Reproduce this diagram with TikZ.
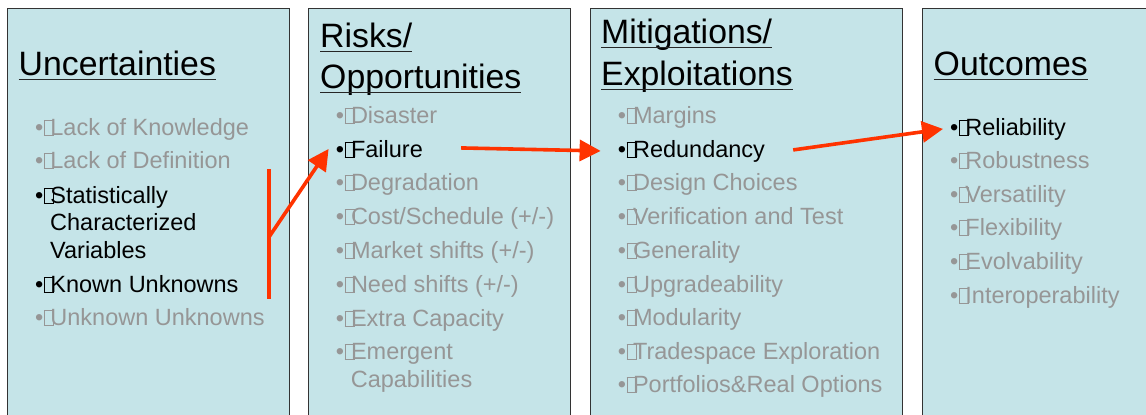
\documentclass[tikz,border=0pt]{standalone}
\usepackage{fontspec}
\setmainfont{Liberation Sans}
\usetikzlibrary{arrows.meta,calc}
\definecolor{panelfill}{HTML}{C5E4E8}
\definecolor{itemgray}{HTML}{969696}
\definecolor{arrowred}{HTML}{FF3300}
\newcommand\gbul{•\kern0.5pt\rlap{\fboxsep=0pt\fboxrule=0.9pt\fbox{\rule{0pt}{14pt}\hspace{8.6pt}}}\kern6.5pt}
\tikzset{
  panel/.style={draw=black!80, line width=1.2pt, fill=panelfill, anchor=north west, inner sep=0, minimum height=440pt},
  ttl/.style={anchor=base west, inner sep=0, font=\fontsize{33.8}{40}\selectfont, text=black},
  uline/.style={line width=1.3pt, black!85},
  itm/.style={anchor=base west, inner sep=0, font=\fontsize{23.5}{28}\selectfont, text=itemgray},
  hot/.style={text=black},
  redline/.style={arrowred, line width=3.6pt},
  redarrow/.style={arrowred, line width=3.6pt, -{Triangle[length=21pt,width=21pt]}}
}
\begin{document}
\begin{tikzpicture}[x=1pt,y=-1pt]
\useasboundingbox (0,0) rectangle (1146,415);
\clip (0,0) rectangle (1146,415);
% panels
\node[panel, minimum width=282pt] (p1) at (7,7.5) {};
\node[panel, minimum width=262pt] (p2) at (308,7.5) {};
\node[panel, minimum width=312pt] (p3) at (590,7.5) {};
\node[panel, minimum width=260pt] (p4) at (922,7.5) {};
% titles
\node[ttl] (t1) at (18.5,75) {Uncertainties};
\node[ttl] (t2a) at (320,47) {Risks/};
\node[ttl] (t2b) at (320,88) {Opportunities};
\node[ttl] (t3a) at (601,43) {Mitigations/};
\node[ttl] (t3b) at (601,85) {Exploitations};
\node[ttl] (t4) at (933.5,75) {Outcomes};
\foreach \t in {t1,t2a,t2b,t3a,t3b,t4}
  \draw[uline] ($(\t.base west)+(0,4.2)$) -- ($(\t.base east)+(0,4.2)$);
% panel 1 items
\node[itm] (u1) at (35,135) {\gbul Lack of Knowledge};
\node[itm] (u2) at (35,168) {\gbul Lack of Definition};
\node[itm,hot] (u3) at (35,203) {\gbul Statistically};
\node[itm,hot] (u3b) at (50,230) {Characterized};
\node[itm,hot] (u3c) at (50,258) {Variables};
\node[itm,hot] (u4) at (35,292) {\gbul Known Unknowns};
\node[itm] (u5) at (35,325) {\gbul Unknown Unknowns};
% panel 2 items
\node[itm] (r1) at (335.6,123) {\gbul Disaster};
\node[itm,hot] (r2) at (335.6,157) {\gbul Failure};
\node[itm] (r3) at (335.6,190) {\gbul Degradation};
\node[itm] (r4) at (335.6,224) {\gbul Cost/Schedule (+/-)};
\node[itm] (r5) at (335.6,258) {\gbul Market shifts (+/-)};
\node[itm] (r6) at (335.6,292) {\gbul Need shifts (+/-)};
\node[itm] (r7) at (335.6,326) {\gbul Extra Capacity};
\node[itm] (r8) at (335.6,359) {\gbul Emergent};
\node[itm] (r8b) at (350.6,387) {Capabilities};
% panel 3 items
\node[itm] (m1) at (617.6,123) {\gbul Margins};
\node[itm,hot] (m2) at (617.6,157) {\gbul Redundancy};
\node[itm] (m3) at (617.6,190) {\gbul Design Choices};
\node[itm] (m4) at (617.6,224) {\gbul Verification and Test};
\node[itm] (m5) at (617.6,258) {\gbul Generality};
\node[itm] (m6) at (617.6,292) {\gbul Upgradeability};
\node[itm] (m7) at (617.6,325) {\gbul Modularity};
\node[itm] (m8) at (617.6,359) {\gbul Tradespace Exploration};
\node[itm] (m9) at (617.6,392) {\gbul Portfolios\&Real Options};
% panel 4 items
\node[itm,hot] (o1) at (950,135) {\gbul Reliability};
\node[itm] (o2) at (950,168) {\gbul Robustness};
\node[itm] (o3) at (950,202) {\gbul Versatility};
\node[itm] (o4) at (950,235) {\gbul Flexibility};
\node[itm] (o5) at (950,269) {\gbul Evolvability};
\node[itm] (o6) at (950,303) {\gbul Interoperability};
% red annotations
\coordinate (vtop) at (269,169);
\coordinate (vbot) at (269,299);
\coordinate (vmid) at (269,237);
\draw[redline] (vtop) -- (vbot);
\draw[redarrow] (vmid) -- ($(r2.west)+(-7,0)$);
\draw[redarrow] ($(r2.east)+(38,-1)$) -- ($(m2.west)+(-17,0)$);
\draw[redarrow] ($(m2.east)+(28,-1)$) -- ($(o1.west)+(-7,0)$);
\end{tikzpicture}
\end{document}
